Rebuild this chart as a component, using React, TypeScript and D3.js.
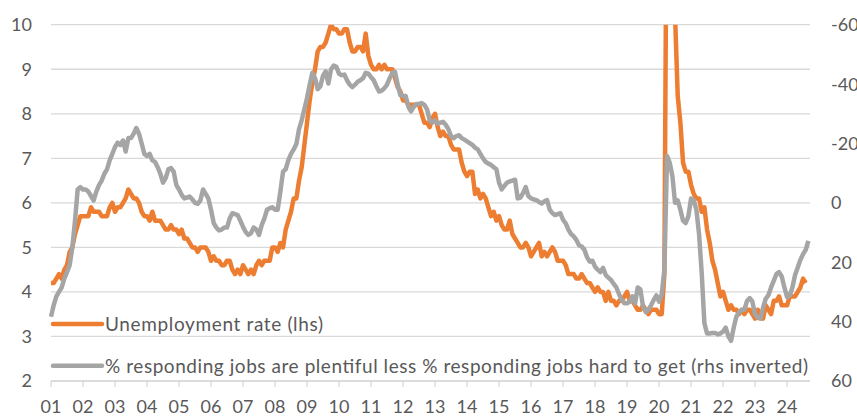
import React from "react";
import * as d3 from "d3";

const startYear = 2001;
const startMonth = 0; // January

// US unemployment rate, %, monthly Jan 2001 – Aug 2024
const unemployment = [
  4.2,4.2,4.3,4.4,4.3,4.5,4.6,4.9,5.0,5.3,5.5,5.7,
  5.7,5.7,5.7,5.9,5.8,5.8,5.8,5.7,5.7,5.7,5.9,6.0,
  5.8,5.9,5.9,6.0,6.1,6.3,6.2,6.1,6.1,6.0,5.8,5.7,
  5.7,5.6,5.8,5.6,5.6,5.6,5.5,5.4,5.4,5.5,5.4,5.4,
  5.3,5.4,5.2,5.2,5.1,5.0,5.0,4.9,5.0,5.0,5.0,4.9,
  4.7,4.8,4.7,4.7,4.6,4.6,4.7,4.7,4.5,4.4,4.5,4.4,
  4.6,4.5,4.4,4.5,4.4,4.6,4.7,4.6,4.7,4.7,4.7,5.0,
  5.0,4.9,5.1,5.0,5.4,5.6,5.8,6.1,6.1,6.5,6.8,7.3,
  7.8,8.3,8.7,9.0,9.4,9.5,9.5,9.6,9.8,10.0,9.9,9.9,
  9.8,9.8,9.9,9.9,9.6,9.4,9.4,9.5,9.5,9.4,9.8,9.3,
  9.1,9.0,9.0,9.1,9.0,9.1,9.0,9.0,9.0,8.8,8.6,8.5,
  8.3,8.3,8.2,8.2,8.2,8.2,8.2,8.0,7.8,7.8,7.7,7.9,
  8.0,7.7,7.5,7.6,7.5,7.5,7.3,7.2,7.2,7.2,6.9,6.7,
  6.6,6.7,6.7,6.2,6.3,6.1,6.2,6.1,5.9,5.7,5.8,5.6,
  5.7,5.5,5.4,5.4,5.6,5.3,5.2,5.1,5.0,5.0,5.1,5.0,
  4.8,4.9,5.0,5.1,4.8,4.9,4.8,4.9,5.0,4.9,4.7,4.7,
  4.7,4.6,4.4,4.4,4.4,4.3,4.3,4.4,4.3,4.2,4.2,4.1,
  4.0,4.1,4.0,4.0,3.8,4.0,3.8,3.8,3.7,3.8,3.8,3.9,
  4.0,3.8,3.8,3.7,3.6,3.6,3.7,3.6,3.5,3.6,3.6,3.6,
  3.5,3.5,4.4,14.8,13.2,11.0,10.2,8.4,7.8,6.9,6.7,6.7,
  6.4,6.2,6.1,6.1,5.8,5.9,5.4,5.1,4.7,4.5,4.2,3.9,
  4.0,3.8,3.6,3.7,3.6,3.6,3.5,3.6,3.5,3.6,3.6,3.5,
  3.4,3.6,3.5,3.4,3.7,3.6,3.5,3.8,3.8,3.9,3.7,3.7,
  3.7,3.9,3.9,3.9,4.0,4.1,4.3,4.2,
];

// % jobs plentiful less % jobs hard to get, monthly Jan 2001 – Sep 2024 (rhs, inverted)
const jobsDifferential = [
  38.4,34.5,31.5,30,28.5,25.5,23.3,21,15,6,-4.5,-5.3,
  -4.5,-4.5,-3.8,-2.3,-0.8,-3.8,-6,-7.5,-9.8,-11.3,-14.3,-16.5,
  -18.8,-20.3,-19.5,-21,-17.3,-21.8,-21.8,-23.3,-25.2,-23.3,-20,-16.5,
  -15.8,-16.5,-14.3,-13.8,-12,-9.8,-6.8,-8.3,-11.3,-11.7,-10.5,-6,
  -4.5,-2.7,-1.5,-1.8,-2.1,-1.2,0,0.3,-0.8,-4.5,-3,-1.5,
  2.3,6.8,8.3,9.3,9,8.3,8.3,5.3,3.5,3.8,4.1,6,
  8.1,9.8,10.8,10.2,8.3,9,10.8,7.5,5.3,2.3,1.8,1.5,
  2.3,2.3,-3.8,-10.5,-11.3,-14.4,-16.5,-18,-19.8,-24.8,-27.8,-31.5,
  -35.3,-39.8,-43.8,-42,-38.3,-39.3,-42.8,-44.3,-40.2,-45,-46.2,-45.8,
  -43.5,-43,-43.2,-41.3,-39.8,-39,-39.8,-40.8,-41.3,-42,-43.8,-43.5,
  -42.3,-41.3,-39.3,-37.5,-37.8,-38.6,-39.8,-42,-43.8,-44.1,-39.8,-36.3,
  -36,-36,-32.4,-30.8,-32.3,-33.3,-33.3,-33.6,-33,-31.5,-27.8,-27,
  -27.8,-26.7,-27,-27.3,-26.3,-24.8,-22.5,-21.8,-22.5,-22.8,-21.8,-21.3,
  -20.7,-20.1,-19.5,-18.6,-18,-16.5,-15,-13.8,-13.2,-12.8,-12,-11.3,
  -6.8,-4.5,-5.7,-6.8,-7.2,-7.5,-7.8,-1.5,-1.8,-3.3,-5.3,-2.3,
  -1.5,-1.2,-0.9,-0.3,0.2,-0.5,-0.9,2.3,3.5,4.1,3.8,3.5,
  5.7,6.9,9,10.5,11.3,12.5,14.3,14.7,15.8,18.3,19.8,19.5,
  21.5,22.5,23.3,21.9,24.3,25.2,26,27.3,28.5,30.8,32.7,33.8,
  33.8,33.3,31.5,33.9,28.5,29.1,35,36.8,36,34.5,32.7,31.2,
  33.3,30.8,22.5,-15.8,-13.5,-9,0,-0.8,2.3,6,6.8,4.5,
  -1.5,-0.9,2.3,10.5,23.7,40.5,44,44,43.8,43.8,44.3,44,
  43.4,42,45,46.5,42,38.3,36.8,36,36,33,32.1,33.3,
  37.5,38.7,39,35.3,32.3,31.1,28.5,26.3,24,23.3,24.8,28.5,
  31.7,31.2,28.5,24.3,21.8,19.2,17.3,15.8,12.8,
];

const xTickLabels = ["01","02","03","04","05","06","07","08","09","10","11","12","13","14","15","16","17","18","19","20","21","22","23","24"];
const leftTicks = [2,3,4,5,6,7,8,9,10];
const rightTicks = [-60,-40,-20,0,20,40,60];
const seriesNames = [
  "Unemployment rate (lhs)",
  "% responding jobs are plentiful less % responding jobs hard to get (rhs inverted)",
];

const W = 857, H = 417;
const M = { left: 51, right: 810, top: 24.7, bottom: 381 };
const ORANGE = "#ED7D31", GREY = "#A5A5A5", TEXT = "#595959", GRID = "#D9D9D9";
const FONT = "Lato, 'Open Sans', sans-serif";

export default function App() {
  const totalMonths = jobsDifferential.length - 1 + 0.6;
  const x = d3.scaleLinear().domain([0, totalMonths]).range([M.left, M.right]);
  const yL = d3.scaleLinear().domain([2, 10]).range([M.bottom, M.top]);
  const yR = d3.scaleLinear().domain([60, -60]).range([M.bottom, M.top]);

  const lineL = d3.line<number>().x((_, i) => x(i)).y((d) => yL(d));
  const lineR = d3.line<number>().x((_, i) => x(i)).y((d) => yR(d));

  const tickIdx = xTickLabels.map((_, k) => k * 12 - startMonth);

  return (
    <svg width={W} height={H} style={{ position: "absolute", left: 0, top: 0, background: "#fff" }} fontFamily={FONT}>
      <defs>
        <clipPath id="plot">
          <rect x={M.left - 5} y={M.top} width={M.right - M.left + 10} height={M.bottom - M.top} />
        </clipPath>
      </defs>
      {leftTicks.map((t) => (
        <line key={"g" + t} x1={M.left} x2={M.right} y1={yL(t)} y2={yL(t)} stroke={GRID} strokeWidth={1.3} />
      ))}
      {tickIdx.map((ti, k) => (
        <g key={"xt" + k}>
          <line x1={x(ti)} x2={x(ti)} y1={M.bottom} y2={M.bottom + 6} stroke={GRID} strokeWidth={1.3} />
          <text x={x(ti)} y={413} textAnchor="middle" fontSize={18} fill={TEXT}>{xTickLabels[k]}</text>
        </g>
      ))}
      <line x1={M.left} x2={M.right} y1={M.bottom} y2={M.bottom} stroke={GRID} strokeWidth={1.3} />
      {leftTicks.map((t) => (
        <text key={"l" + t} x={32} y={yL(t)} dy="0.36em" textAnchor="end" fontSize={18} fill={TEXT}>{t}</text>
      ))}
      {rightTicks.map((t) => (
        <text key={"r" + t} x={831} y={yR(t)} dy="0.36em" textAnchor="start" fontSize={18} fill={TEXT}>{t}</text>
      ))}
      <g clipPath="url(#plot)">
        <path d={lineL(unemployment) || ""} fill="none" stroke={ORANGE} strokeWidth={4.5} strokeLinejoin="round" />
        <path d={lineR(jobsDifferential) || ""} fill="none" stroke={GREY} strokeWidth={4.5} strokeLinejoin="round" />
      </g>
      <g>
        <line x1={53} x2={102} y1={324} y2={324} stroke={ORANGE} strokeWidth={4.5} strokeLinecap="round" />
        <text x={105} y={324} dy="0.36em" fontSize={19} fill={TEXT} textLength={218} lengthAdjust="spacing">{seriesNames[0]}</text>
        <line x1={53} x2={102} y1={365.7} y2={365.7} stroke={GREY} strokeWidth={4.5} strokeLinecap="round" />
        <text x={105} y={365.7} dy="0.36em" fontSize={19} fill={TEXT} textLength={703} lengthAdjust="spacing">{seriesNames[1]}</text>
      </g>
    </svg>
  );
}
